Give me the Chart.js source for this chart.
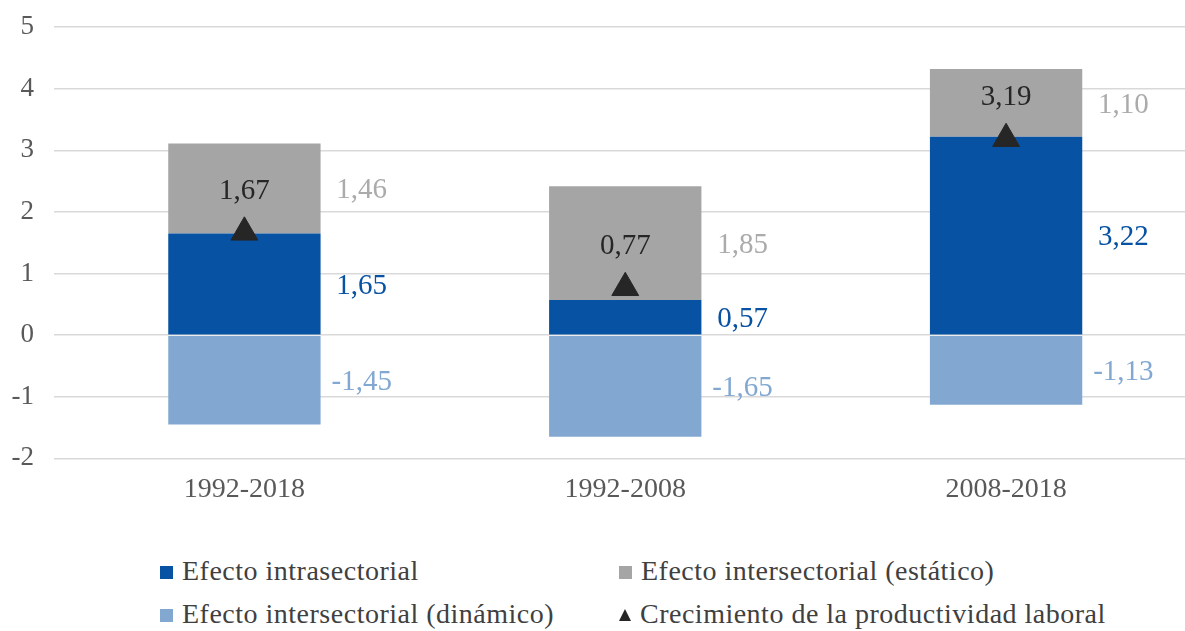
<!DOCTYPE html>
<html>
<head>
<meta charset="utf-8">
<script src="https://cdn.jsdelivr.net/npm/chart.js@4.4.1/dist/chart.umd.min.js"></script>
<style>
  html, body { margin: 0; padding: 0; background: #fff; overflow: hidden; }
  body { width: 1185px; height: 631px; position: relative; }
  #chart { position: absolute; left: 0; top: -9px; }
  .legend { position: absolute; font-family: "Liberation Serif", serif; font-size: 28px; letter-spacing: 0.5px; color: #404040; white-space: nowrap; }
  .legend .box { display: inline-block; width: 13px; height: 13px; margin-right: 9px; vertical-align: 1px; }
  .legend .tri { display: inline-block; width: 0; height: 0; border-left: 6px solid transparent; border-right: 6px solid transparent; border-bottom: 12px solid #262626; margin-right: 9px; vertical-align: 2px; }
</style>
</head>
<body>
<canvas id="chart" width="1213" height="533"></canvas>
<div class="legend" style="left:160px;top:555px"><span class="box" style="background:#0752A2"></span>Efecto intrasectorial</div>
<div class="legend" style="left:619px;top:555px"><span class="box" style="background:#A5A5A5"></span>Efecto intersectorial (estático)</div>
<div class="legend" style="left:160px;top:598px"><span class="box" style="background:#82A8D2"></span>Efecto intersectorial (dinámico)</div>
<div class="legend" style="left:619px;top:598px"><span class="tri"></span>Crecimiento de la productividad laboral</div>
<script>
const periods = ['1992-2018', '1992-2008', '2008-2018'];
const intrasectorial = [1.65, 0.57, 3.22];
const estatico = [1.46, 1.85, 1.10];
const dinamico = [-1.45, -1.65, -1.13];
const crecimiento = [1.67, 0.77, 3.19];
const yTicks = [5, 4, 3, 2, 1, 0, -1, -2];

const SERIF = '"Liberation Serif", serif';
const fmt = v => v.toFixed(2).replace('.', ',');

// labels beside the bar segments and above the triangles
const valueLabels = {
  id: 'valueLabels',
  afterDatasetsDraw(chart) {
    const ctx = chart.ctx;
    ctx.save();
    ctx.font = '29px ' + SERIF;
    ctx.textBaseline = 'middle';
    ctx.textAlign = 'center';
    chart.data.datasets.forEach((ds, i) => {
      const meta = chart.getDatasetMeta(i);
      meta.data.forEach((el, j) => {
        const v = ds.data[j];
        if (ds.type === 'line') {
          ctx.fillStyle = '#262626';
          ctx.fillText(fmt(v), el.x, el.y - 41);
        } else {
          const mid = (el.y + el.base) / 2;
          ctx.fillStyle = ds.labelColor;
          ctx.fillText(fmt(v), el.x + el.width * 0.77, mid + 2);
        }
      });
    });
    ctx.restore();
  }
};

new Chart(document.getElementById('chart'), {
  data: {
    labels: periods,
    datasets: [
      {
        type: 'line',
        label: 'Crecimiento de la productividad laboral',
        data: crecimiento,
        showLine: false,
        pointStyle: 'triangle',
        pointRadius: 15.5,
        pointBackgroundColor: '#262626',
        pointBorderColor: '#262626',
        order: 0,
      },
      {
        type: 'bar',
        label: 'Efecto intrasectorial',
        data: intrasectorial,
        backgroundColor: '#0752A2',
        labelColor: '#0752A2',
        stack: 's',
        order: 1,
      },
      {
        type: 'bar',
        label: 'Efecto intersectorial (estático)',
        data: estatico,
        backgroundColor: '#A5A5A5',
        labelColor: '#ABABAB',
        stack: 's',
        order: 1,
      },
      {
        type: 'bar',
        label: 'Efecto intersectorial (dinámico)',
        data: dinamico,
        backgroundColor: '#82A8D2',
        labelColor: '#82A8D2',
        stack: 's',
        order: 1,
      },
    ],
  },
  options: {
    responsive: false,
    animation: false,
    datasets: { bar: { barPercentage: 0.4, categoryPercentage: 1 } },
    layout: { padding: { top: 17, bottom: 4, right: 0, left: 0 } },
    plugins: {
      legend: { display: false },
      tooltip: { enabled: false },
    },
    scales: {
      x: {
        stacked: true,
        grid: { display: false, drawTicks: false },
        border: { display: false },
        ticks: { color: '#595959', font: { family: SERIF, size: 28 }, padding: 14 },
      },
      y: {
        stacked: true,
        min: -2,
        max: 5,
        afterFit: scale => { scale.width = 54; },
        afterBuildTicks: scale => { scale.ticks = yTicks.map(v => ({ value: v })); },
        grid: { color: '#D9D9D9', lineWidth: 1.5, drawTicks: false },
        border: { display: false },
        ticks: { color: '#595959', font: { family: SERIF, size: 27 }, padding: 20 },
      },
    },
  },
  plugins: [valueLabels],
});
</script>
</body>
</html>
